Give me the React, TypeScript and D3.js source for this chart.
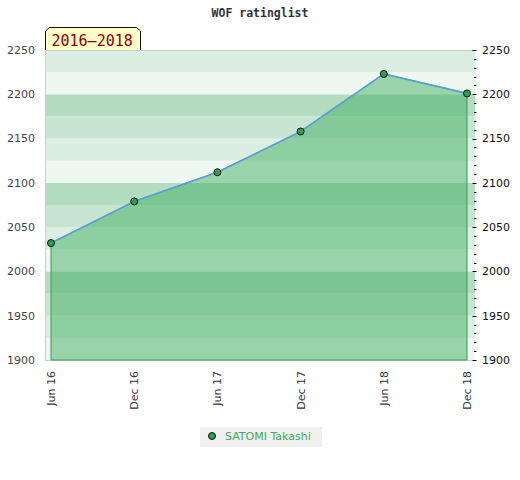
import * as d3 from "d3"

// ratings
const periods = ["Jun 16", "Dec 16", "Jun 17", "Dec 17", "Jun 18", "Dec 18"]
const ratings = [2032, 2079, 2112, 2158, 2223, 2201]
const yTicks = [1900, 1950, 2000, 2050, 2100, 2150, 2200, 2250]
const playerName = "SATOMI Takashi"
const chartTitle = "WOF ratinglist"
const rangeLabel = "2016–2018"

const W = 520
const H = 480
const plot = { left: 45, right: 475, top: 50, bottom: 360 }

// band colours, from the darkest one right under each hundred
const bandColors = ["#b3dcc1", "#c7e5d1", "#dbeee1", "#eff7f1"]

export default function App() {
  const x = d3.scalePoint<string>().domain(periods).range([51, 467])
  const y = d3.scaleLinear().domain([1900, 2250]).range([plot.bottom, plot.top])

  const pts = periods.map((p, i) => ({ p, v: ratings[i] }))

  const area = d3
    .area<{ p: string; v: number }>()
    .x((d) => x(d.p)!)
    .y0(y(1900))
    .y1((d) => y(d.v))

  const line = d3
    .line<{ p: string; v: number }>()
    .x((d) => x(d.p)!)
    .y((d) => y(d.v))

  const bands = d3.range(1900, 2250, 25)
  const minorTicks = d3.range(1900, 2251, 10)

  const font = "'DejaVu Sans', Verdana, sans-serif"
  const mono = "'DejaVu Sans Mono', monospace"

  return (
    <svg width={W} height={H} style={{ position: "absolute", left: 0, top: 0 }}>
      <rect width={W} height={H} fill="#fff" />

      <text x={260} y={17} textAnchor="middle" fontFamily={mono} fontWeight="bold" fontSize={11.5} fill="#333">
        {chartTitle}
      </text>

      {/* background bands */}
      {bands.map((b) => {
        const idx = Math.floor(((b % 100) + 100) % 100 / 25)
        return (
          <rect
            key={b}
            x={plot.left}
            y={y(b + 25)}
            width={plot.right - plot.left}
            height={y(b) - y(b + 25)}
            fill={bandColors[3 - idx]}
          />
        )
      })}

      {/* frame */}
      <line x1={plot.left} x2={plot.right} y1={plot.top + 0.5} y2={plot.top + 0.5} stroke="#ccc" />
      <line x1={plot.left} x2={plot.right} y1={plot.bottom + 0.5} y2={plot.bottom + 0.5} stroke="#ccc" />
      <line x1={plot.left + 0.5} x2={plot.left + 0.5} y1={plot.top} y2={plot.bottom} stroke="#ccc" />

      {/* area */}
      <path d={area(pts)!} fill="rgb(66,176,97)" fillOpacity={0.5} stroke="#3a9a55" strokeWidth={1} />
      <path d={line(pts)!} fill="none" stroke="#5a9fd8" strokeWidth={1.6} />

      {pts.map((d) => (
        <circle key={d.p} cx={x(d.p)} cy={y(d.v)} r={3.5} fill="#2f9e55" stroke="#111" strokeWidth={1} />
      ))}

      {/* left axis labels */}
      {yTicks.map((t) => (
        <text key={"l" + t} x={35} y={y(t)} dy="0.35em" textAnchor="end" fontFamily={font} fontSize={11} fill="#444">
          {t}
        </text>
      ))}

      {/* right axis ticks and labels */}
      {minorTicks.map((t) => (
        <line
          key={"m" + t}
          x1={t % 50 === 0 ? 472.5 : 474}
          x2={476.5}
          y1={Math.round(y(t)) + 0.5}
          y2={Math.round(y(t)) + 0.5}
          stroke="#111"
          strokeWidth={1}
        />
      ))}
      {yTicks.map((t) => (
        <text key={"r" + t} x={482} y={y(t)} dy="0.35em" textAnchor="start" fontFamily={font} fontSize={11} fill="#111">
          {t}
        </text>
      ))}

      {/* x labels */}
      {periods.map((p) => (
        <text
          key={p}
          transform={`translate(${x(p)! + 4},371) rotate(-90)`}
          textAnchor="end"
          fontFamily={font}
          fontSize={11}
          fill="#333"
        >
          {p}
        </text>
      ))}

      {/* period label */}
      <path
        d={`M${plot.left + 0.5},${plot.top} V31 L${plot.left + 4.5},27.5 H136.5 L140.5,31 V${plot.top}`}
        fill="#ffffc8"
        stroke="#111"
        strokeWidth={1}
      />
      <text x={51.5} y={45.5} fontFamily={mono} fontSize={15} fill="#8b0000">
        {rangeLabel}
      </text>

      {/* legend */}
      <rect x={200} y={427} width={122} height={20} fill="#f0f0f0" />
      <circle cx={212} cy={436} r={3.5} fill="#2f9e55" stroke="#111" strokeWidth={1} />
      <text x={225} y={436} dy="0.35em" fontFamily={font} fontSize={11} fill="#3cab5f">
        {playerName}
      </text>
    </svg>
  )
}
